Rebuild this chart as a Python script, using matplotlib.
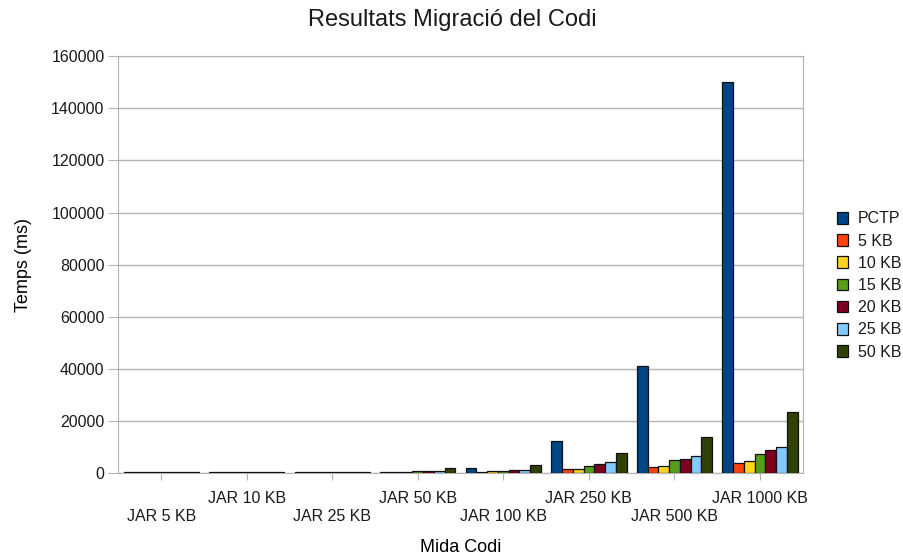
import matplotlib.pyplot as plt
import numpy as np

categories = ["JAR 5 KB", "JAR 10 KB", "JAR 25 KB", "JAR 50 KB",
              "JAR 100 KB", "JAR 250 KB", "JAR 500 KB", "JAR 1000 KB"]
series_names = ["PCTP", "5 KB", "10 KB", "15 KB", "20 KB", "25 KB", "50 KB"]

pctp = [500, 500, 500, 500, 2000, 12200, 41300, 150000]
kb5 = [400, 400, 400, 500, 500, 1500, 2400, 3900]
kb10 = [400, 400, 400, 600, 800, 1500, 2800, 4600]
kb15 = [400, 400, 400, 800, 800, 2900, 5000, 7500]
kb20 = [400, 400, 400, 900, 1200, 3500, 5600, 8700]
kb25 = [400, 400, 400, 1000, 1300, 4100, 6600, 10200]
kb50 = [500, 500, 500, 1900, 3000, 7700, 13800, 23500]

series = [pctp, kb5, kb10, kb15, kb20, kb25, kb50]
colors = ["#004586", "#ff420e", "#ffd320", "#579d1c", "#7e0021", "#83caff", "#314004"]

plt.rcParams['font.family'] = ['Liberation Sans', 'DejaVu Sans']
plt.rcParams['text.color'] = '#1a1a1a'
plt.rcParams['xtick.color'] = '#b3b3b3'
plt.rcParams['ytick.color'] = '#b3b3b3'
plt.rcParams['xtick.labelcolor'] = '#1a1a1a'
plt.rcParams['ytick.labelcolor'] = '#1a1a1a'

fig = plt.figure(figsize=(9.04, 5.56), dpi=100)
ax = fig.add_axes([0.131, 0.149, 0.757, 0.750])

x = np.arange(len(categories))
n = len(series)
width = 0.88 / n
for i, (vals, name, c) in enumerate(zip(series, series_names, colors)):
    ax.bar(x - 0.44 + width * (i + 0.5), vals, width, color=c,
           edgecolor="#111111", linewidth=0.9, label=name, zorder=3)

ax.set_xlim(-0.5, len(categories) - 0.5)
ax.set_ylim(0, 160000)
ax.set_yticks(range(0, 160001, 20000))
ax.tick_params(axis="y", labelsize=11.5, length=7, pad=3)
ax.grid(axis="y", color="#b3b3b3", linewidth=1, zorder=0)

# staggered category labels
labels = [("\n" + c) if i % 2 == 0 else c for i, c in enumerate(categories)]
ax.set_xticks(x)
ax.set_xticklabels(labels, fontsize=11.5, linespacing=1.25)
ax.tick_params(axis="x", length=5, pad=8)

for s in ax.spines.values():
    s.set_color("#b3b3b3")

ax.set_xlabel("Mida Codi", fontsize=13, labelpad=11)
ax.set_ylabel("Temps (ms)", fontsize=13, labelpad=14)
fig.suptitle("Resultats Migració del Codi", fontsize=17, y=0.983)

ax.legend(loc="center left", bbox_to_anchor=(1.04, 0.45), frameon=False,
          fontsize=11.5, handlelength=0.75, handleheight=0.75,
          handletextpad=0.6, labelspacing=0.45, borderaxespad=0)

fig.savefig("out.png", dpi=100)
